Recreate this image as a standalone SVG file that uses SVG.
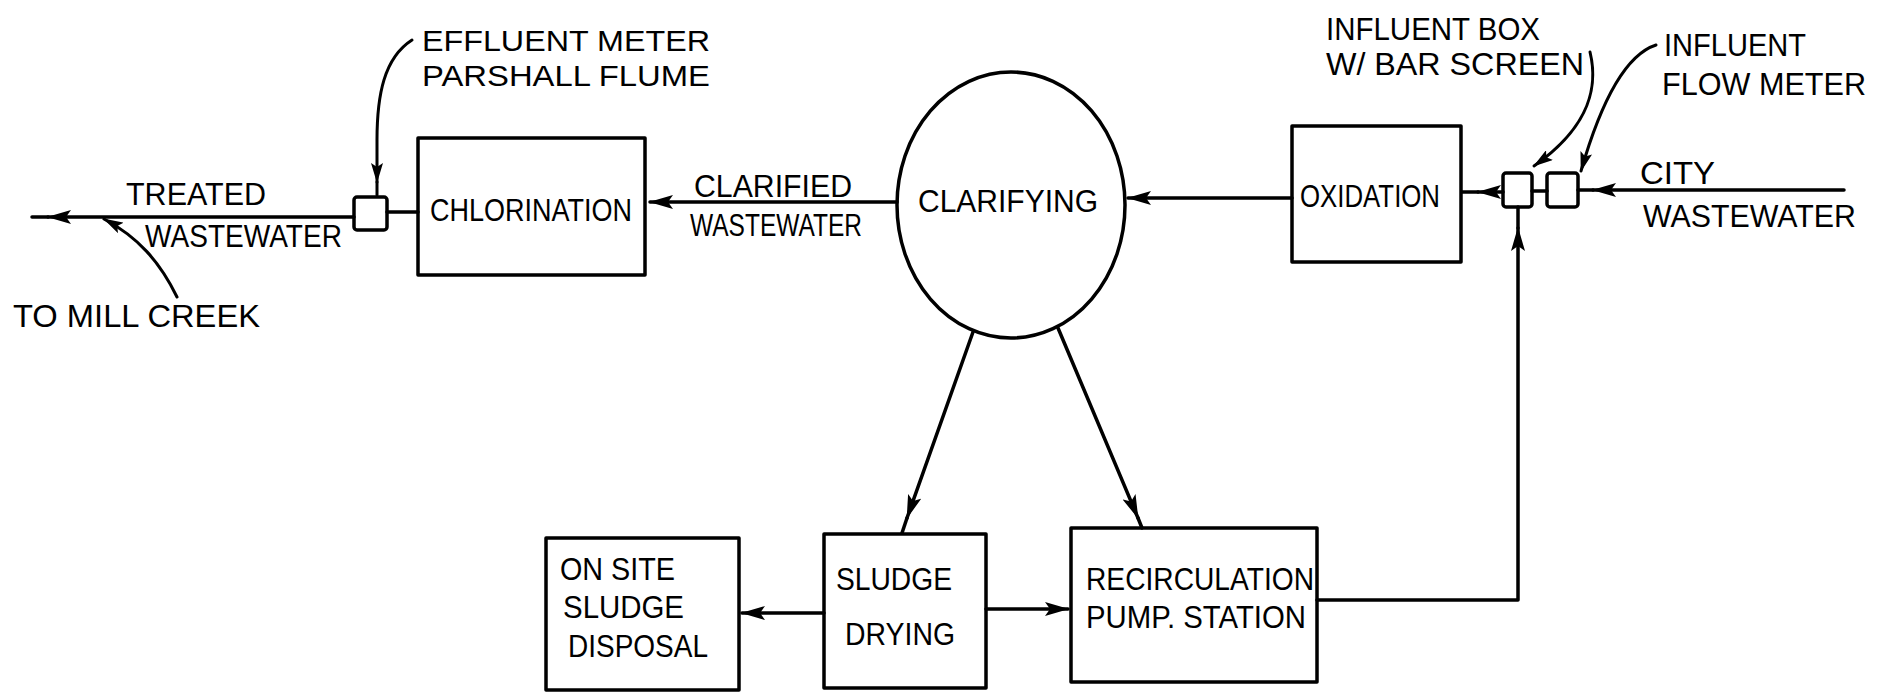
<svg xmlns="http://www.w3.org/2000/svg" width="1881" height="693" viewBox="0 0 1881 693">
<style>
.bg{fill:#fff}
.box{fill:none;stroke:#000;stroke-width:3.5;stroke-linejoin:round}
.ln{fill:none;stroke:#000;stroke-width:3.5;stroke-linecap:round;stroke-linejoin:round}
.ld{fill:none;stroke:#000;stroke-width:3;stroke-linecap:round}
.t{font-family:"Liberation Sans","DejaVu Sans",sans-serif;font-size:32px;fill:#000}
.ts{font-size:29px}
</style>
<defs>
<marker id="ah" markerUnits="userSpaceOnUse" viewBox="0 0 24 14" refX="23" refY="7" markerWidth="24" markerHeight="14" orient="auto">
<path d="M0 0 L24 7 L0 14 L5 7 z" fill="#000"/>
</marker>
<marker id="ahs" markerUnits="userSpaceOnUse" viewBox="0 0 20 12" refX="19" refY="6" markerWidth="20" markerHeight="12" orient="auto">
<path d="M0 0 L20 6 L0 12 L4 6 z" fill="#000"/>
</marker>
</defs>
<rect class="bg" x="0" y="0" width="1881" height="693"/>

<g id="connectors">
<path class="ln" d="M354 217 L48 217" marker-end="url(#ah)"/>
<path class="ln" d="M48 217 L32 217"/>
<path class="ln" d="M387 212 L418 212"/>
<path class="ld" d="M177 297 C160 262 138 237 104 219" marker-end="url(#ahs)"/>
<path class="ld" d="M412 40 C384 58 377 95 377 140 L377 182" marker-end="url(#ahs)"/>
<path class="ld" d="M377 182 L377 195"/>
<path class="ln" d="M897 202 L650 202" marker-end="url(#ah)"/>
<path class="ln" d="M1292 198 L1128 198" marker-end="url(#ah)"/>
<path class="ln" d="M1503 192 L1478 192" marker-end="url(#ah)"/>
<path class="ln" d="M1478 192 L1462 192"/>
<path class="ln" d="M1547 191 L1532 191"/>
<path class="ln" d="M1844 190 L1593 190" marker-end="url(#ah)"/>
<path class="ln" d="M1593 190 L1578 190"/>
<path class="ld" d="M1590 52 C1598 85 1592 125 1534 166" marker-end="url(#ahs)"/>
<path class="ld" d="M1656 45 C1625 55 1600 105 1581 171" marker-end="url(#ahs)"/>
<path class="ln" d="M973 332 L907 518" marker-end="url(#ah)"/>
<path class="ln" d="M907 518 L902 533"/>
<path class="ln" d="M1058 328 L1138 518" marker-end="url(#ah)"/>
<path class="ln" d="M1138 518 L1142 528"/>
<path class="ln" d="M824 613 L742 613" marker-end="url(#ah)"/>
<path class="ln" d="M986 609 L1068 609" marker-end="url(#ah)"/>
<path class="ln" d="M1317 600 L1518 600 L1518 228" marker-end="url(#ah)"/>
<path class="ln" d="M1518 228 L1518 207"/>
</g>

<g id="labels">
<text class="t ts" x="422" y="51" textLength="288" lengthAdjust="spacingAndGlyphs">EFFLUENT METER</text>
<text class="t ts" x="422" y="86" textLength="288" lengthAdjust="spacingAndGlyphs">PARSHALL FLUME</text>
<text class="t" x="126" y="205" textLength="140" lengthAdjust="spacingAndGlyphs">TREATED</text>
<text class="t" x="145" y="247" textLength="197" lengthAdjust="spacingAndGlyphs">WASTEWATER</text>
<text class="t" x="13" y="327" textLength="247" lengthAdjust="spacingAndGlyphs">TO MILL CREEK</text>
<text class="t" x="694" y="197" textLength="158" lengthAdjust="spacingAndGlyphs">CLARIFIED</text>
<text class="t" x="690" y="236" textLength="172" lengthAdjust="spacingAndGlyphs">WASTEWATER</text>
<text class="t" x="1326" y="40" textLength="214" lengthAdjust="spacingAndGlyphs">INFLUENT BOX</text>
<text class="t" x="1326" y="75" textLength="258" lengthAdjust="spacingAndGlyphs">W/ BAR SCREEN</text>
<text class="t" x="1664" y="56" textLength="142" lengthAdjust="spacingAndGlyphs">INFLUENT</text>
<text class="t" x="1662" y="95" textLength="204" lengthAdjust="spacingAndGlyphs">FLOW METER</text>
<text class="t" x="1640" y="184" textLength="75" lengthAdjust="spacingAndGlyphs">CITY</text>
<text class="t" x="1643" y="227" textLength="213" lengthAdjust="spacingAndGlyphs">WASTEWATER</text>
</g>

<g id="flume"><rect class="box" x="354" y="197" width="33" height="33" rx="3"/></g>
<g id="chlorination">
<rect class="box" x="418" y="138" width="227" height="137"/>
<text class="t" x="430" y="221" textLength="202" lengthAdjust="spacingAndGlyphs">CHLORINATION</text>
</g>
<g id="clarifying">
<ellipse class="box" cx="1011" cy="205" rx="114" ry="133"/>
<text class="t" x="918" y="212" textLength="180" lengthAdjust="spacingAndGlyphs">CLARIFYING</text>
</g>
<g id="oxidation">
<rect class="box" x="1292" y="126" width="169" height="136"/>
<text class="t" x="1300" y="207" textLength="140" lengthAdjust="spacingAndGlyphs">OXIDATION</text>
</g>
<g id="influent-box"><rect class="box" x="1503" y="173" width="29" height="34" rx="3"/></g>
<g id="flow-meter"><rect class="box" x="1547" y="173" width="31" height="34" rx="3"/></g>
<g id="onsite-disposal">
<rect class="box" x="546" y="538" width="193" height="152"/>
<text class="t" x="560" y="580" textLength="115" lengthAdjust="spacingAndGlyphs">ON SITE</text>
<text class="t" x="563" y="618" textLength="121" lengthAdjust="spacingAndGlyphs">SLUDGE</text>
<text class="t" x="568" y="657" textLength="140" lengthAdjust="spacingAndGlyphs">DISPOSAL</text>
</g>
<g id="sludge-drying">
<rect class="box" x="824" y="534" width="162" height="154"/>
<text class="t" x="836" y="590" textLength="116" lengthAdjust="spacingAndGlyphs">SLUDGE</text>
<text class="t" x="845" y="645" textLength="110" lengthAdjust="spacingAndGlyphs">DRYING</text>
</g>
<g id="recirculation">
<rect class="box" x="1071" y="528" width="246" height="154"/>
<text class="t" x="1086" y="590" textLength="228" lengthAdjust="spacingAndGlyphs">RECIRCULATION</text>
<text class="t" x="1086" y="628" textLength="220" lengthAdjust="spacingAndGlyphs">PUMP. STATION</text>
</g>
</svg>
